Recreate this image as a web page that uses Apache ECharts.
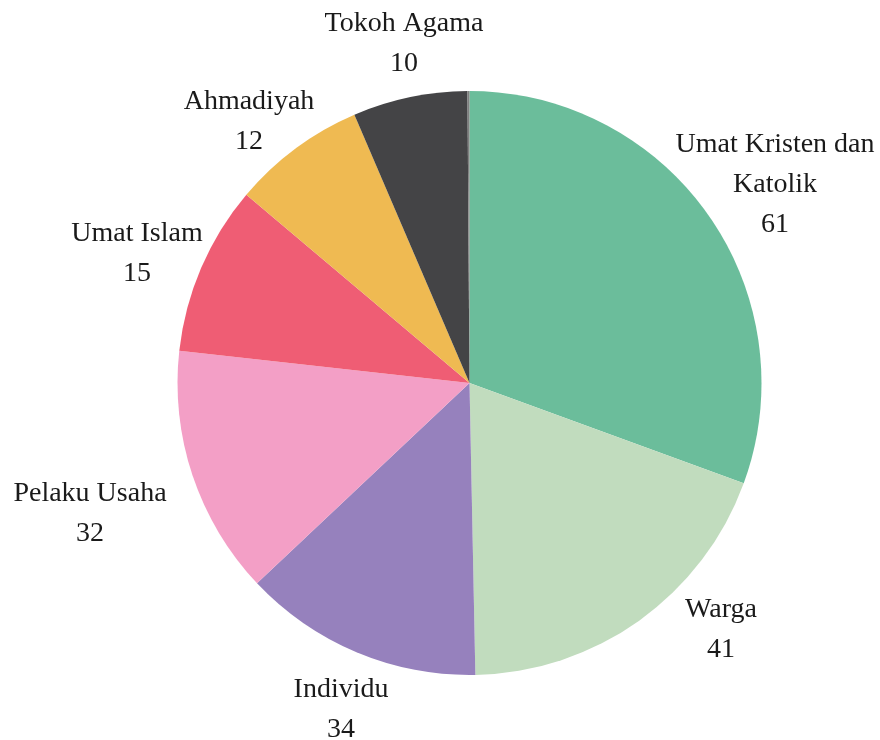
<!DOCTYPE html>
<html>
<head>
<meta charset="utf-8">
<script src="https://cdn.jsdelivr.net/npm/echarts@6/dist/echarts.min.js"></script>
<style>
  html, body { margin: 0; padding: 0; background: #ffffff; }
  #chart { width: 880px; height: 740px; }
</style>
</head>
<body>
<div id="chart"></div>
<script>
// Category names, clockwise from 12 o'clock (last one is the unlabeled sliver)
const categories = ['Umat Kristen dan\nKatolik', 'Warga', 'Individu', 'Pelaku Usaha', 'Umat Islam', 'Ahmadiyah', 'Tokoh Agama', ''];
// Numbers printed in the labels
const labelCounts = [61, 41, 34, 32, 15, 12, 10, null];
// Slice sizes (degrees of arc)
const sliceShares = [110.0, 68.7, 47.8, 49.6, 33.8, 26.6, 22.8, 0.4];

const colors = ['#6bbd9b', '#c1dcbe', '#9681bd', '#f39fc6', '#ef5d74', '#efba52', '#444446', '#808080'];
// label block centres (layout only)
const labelPlacement = [[775, 185], [721, 630], [341, 710], [90, 514], [137, 254], [249, 122], [404, 44], [470, 60]];

const chart = echarts.init(document.getElementById('chart'), null, { renderer: 'canvas' });

const data = categories.map((name, i) => ({
  name: name,
  value: sliceShares[i],
  itemStyle: { color: colors[i] },
  label: { show: labelCounts[i] !== null }
}));

chart.setOption({
  animation: false,
  backgroundColor: '#ffffff',
  series: [{
    type: 'pie',
    center: [469.5, 383],
    radius: [0, 292],
    startAngle: 90,
    clockwise: true,
    avoidLabelOverlap: false,
    silent: true,
    itemStyle: { borderWidth: 0 },
    label: {
      show: true,
      position: 'outside',
      fontFamily: 'Liberation Serif',
      fontSize: 28,
      lineHeight: 40,
      color: '#1a1a1a',
      align: 'center',
      formatter: (p) => categories[p.dataIndex] + '\n' + labelCounts[p.dataIndex]
    },
    labelLine: { show: false },
    labelLayout: (params) => {
      const pos = labelPlacement[params.dataIndex];
      return { x: pos[0], y: pos[1], align: 'center', verticalAlign: 'middle' };
    },
    data: data
  }]
});
</script>
</body>
</html>
